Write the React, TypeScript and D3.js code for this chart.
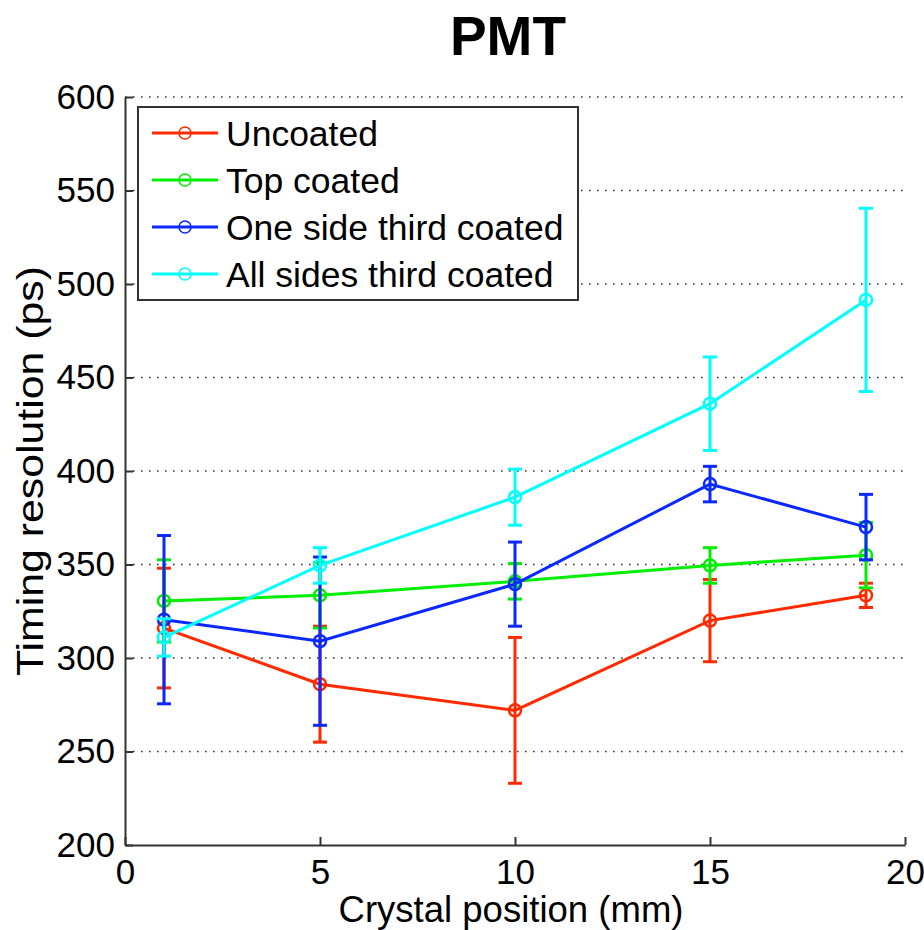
import React, { useEffect, useRef } from 'react';
import * as d3 from 'd3';

// crystal positions (mm)
const positions = [1, 5, 10, 15, 19];

const seriesNames = ['Uncoated', 'Top coated', 'One side third coated', 'All sides third coated'];
const seriesColors = ['#ff2a00', '#00ee00', '#0a28ff', '#00ffff'];

// timing resolution (ps) and error half-widths
const uncoated = [316, 286, 272, 320, 333.5];
const uncoatedErr = [32, 31, 39, 22, 6.5];
const topCoated = [330.5, 333.5, 341, 349.5, 355];
const topCoatedErr = [22, 17.5, 9.5, 9.5, 17.5];
const oneSide = [320.5, 309, 339.5, 393, 370];
const oneSideErr = [45, 45, 22.5, 9.5, 17.5];
const allSides = [311, 349.5, 386, 436, 491.5];
const allSidesErr = [10, 9.5, 15, 25, 49];

const xTicks = [0, 5, 10, 15, 20];
const yTicks = [200, 250, 300, 350, 400, 450, 500, 550, 600];

const App = () => {
  const svgRef = useRef<SVGSVGElement>(null);

  useEffect(() => {
    const svg = d3.select(svgRef.current);
    svg.selectAll('*').remove();

    const margin = { top: 97, right: 19, bottom: 85, left: 125 };
    const width = 924;
    const height = 930;
    const font = 'Liberation Sans, Arial, Helvetica, sans-serif';

    const x = d3.scaleLinear().domain([0, 20]).range([margin.left, width - margin.right]);
    const y = d3.scaleLinear().domain([200, 600]).range([height - margin.bottom, margin.top]);

    const series = [
      { values: uncoated, err: uncoatedErr },
      { values: topCoated, err: topCoatedErr },
      { values: oneSide, err: oneSideErr },
      { values: allSides, err: allSidesErr },
    ];

    // dotted horizontal grid
    svg
      .append('g')
      .selectAll('line')
      .data(yTicks.filter(t => t > 200))
      .enter()
      .append('line')
      .attr('x1', x(0))
      .attr('x2', x(20))
      .attr('y1', d => y(d))
      .attr('y2', d => y(d))
      .attr('stroke', '#333')
      .attr('stroke-width', 1.6)
      .attr('stroke-dasharray', '1.6,6.4');

    // axes with inward ticks
    const xAxis = svg
      .append('g')
      .attr('transform', `translate(0,${y(200)})`)
      .call(d3.axisBottom(x).tickValues(xTicks).tickSize(-8).tickPadding(14).tickSizeOuter(0));
    const yAxis = svg
      .append('g')
      .attr('transform', `translate(${x(0)},0)`)
      .call(d3.axisLeft(y).tickValues(yTicks).tickSize(-8).tickPadding(10).tickSizeOuter(0));

    [xAxis, yAxis].forEach(ax => {
      ax.select('.domain').attr('stroke', '#333').attr('stroke-width', 2);
      ax.selectAll('.tick line').attr('stroke', '#333').attr('stroke-width', 2);
      ax.selectAll('.tick text')
        .attr('fill', '#000')
        .style('font-family', font)
        .style('font-size', '35px');
    });

    // series: lines, error bars, markers
    series.forEach((s, i) => {
      const color = seriesColors[i];
      const g = svg.append('g');
      const line = d3
        .line<number>()
        .x((_, j) => x(positions[j]))
        .y(d => y(d));

      g.append('path')
        .datum(s.values)
        .attr('d', line)
        .attr('fill', 'none')
        .attr('stroke', color)
        .attr('stroke-width', 3);

      const bars = g
        .selectAll('.err')
        .data(s.values)
        .enter()
        .append('g')
        .attr('class', 'err');
      bars
        .append('line')
        .attr('x1', (_, j) => x(positions[j]))
        .attr('x2', (_, j) => x(positions[j]))
        .attr('y1', (d, j) => y(d - s.err[j]))
        .attr('y2', (d, j) => y(d + s.err[j]))
        .attr('stroke', color)
        .attr('stroke-width', 3);
      [-1, 1].forEach(sign => {
        bars
          .append('line')
          .attr('x1', (_, j) => x(positions[j]) - 7)
          .attr('x2', (_, j) => x(positions[j]) + 7)
          .attr('y1', (d, j) => y(d + sign * s.err[j]))
          .attr('y2', (d, j) => y(d + sign * s.err[j]))
          .attr('stroke', color)
          .attr('stroke-width', 3);
      });

      g.selectAll('circle')
        .data(s.values)
        .enter()
        .append('circle')
        .attr('cx', (_, j) => x(positions[j]))
        .attr('cy', d => y(d))
        .attr('r', 6)
        .attr('fill', 'none')
        .attr('stroke', color)
        .attr('stroke-width', 2.5);
    });

    // legend
    const legend = svg.append('g').attr('transform', 'translate(138,107)');
    legend
      .append('rect')
      .attr('width', 440)
      .attr('height', 193)
      .attr('fill', '#fff')
      .attr('stroke', '#333')
      .attr('stroke-width', 2);
    seriesNames.forEach((name, i) => {
      const cy = 26 + i * 47;
      legend
        .append('line')
        .attr('x1', 14)
        .attr('x2', 80)
        .attr('y1', cy)
        .attr('y2', cy)
        .attr('stroke', seriesColors[i])
        .attr('stroke-width', 3);
      legend
        .append('circle')
        .attr('cx', 47)
        .attr('cy', cy)
        .attr('r', 6)
        .attr('fill', 'none')
        .attr('stroke', seriesColors[i])
        .attr('stroke-width', 1.5);
      legend
        .append('text')
        .attr('x', 88)
        .attr('y', cy + 13)
        .style('font-family', font)
        .style('font-size', '35.5px')
        .text(name);
    });

    // title and axis labels
    svg
      .append('text')
      .attr('x', 508)
      .attr('y', 55)
      .attr('text-anchor', 'middle')
      .style('font-family', font)
      .style('font-size', '55px')
      .style('font-weight', 'bold')
      .text('PMT');
    svg
      .append('text')
      .attr('x', 511)
      .attr('y', 922)
      .attr('text-anchor', 'middle')
      .attr('textLength', 345)
      .attr('lengthAdjust', 'spacingAndGlyphs')
      .style('font-family', font)
      .style('font-size', '36px')
      .text('Crystal position (mm)');
    svg
      .append('text')
      .attr('transform', `translate(43,${(y(200) + y(600)) / 2}) rotate(-90)`)
      .attr('text-anchor', 'middle')
      .attr('textLength', 410)
      .attr('lengthAdjust', 'spacingAndGlyphs')
      .style('font-family', font)
      .style('font-size', '37px')
      .text('Timing resolution (ps)');
  }, []);

  return (
    <svg
      ref={svgRef}
      width={924}
      height={930}
      style={{ position: 'absolute', left: 0, top: 0, background: '#fff' }}
    ></svg>
  );
};

export default App;
